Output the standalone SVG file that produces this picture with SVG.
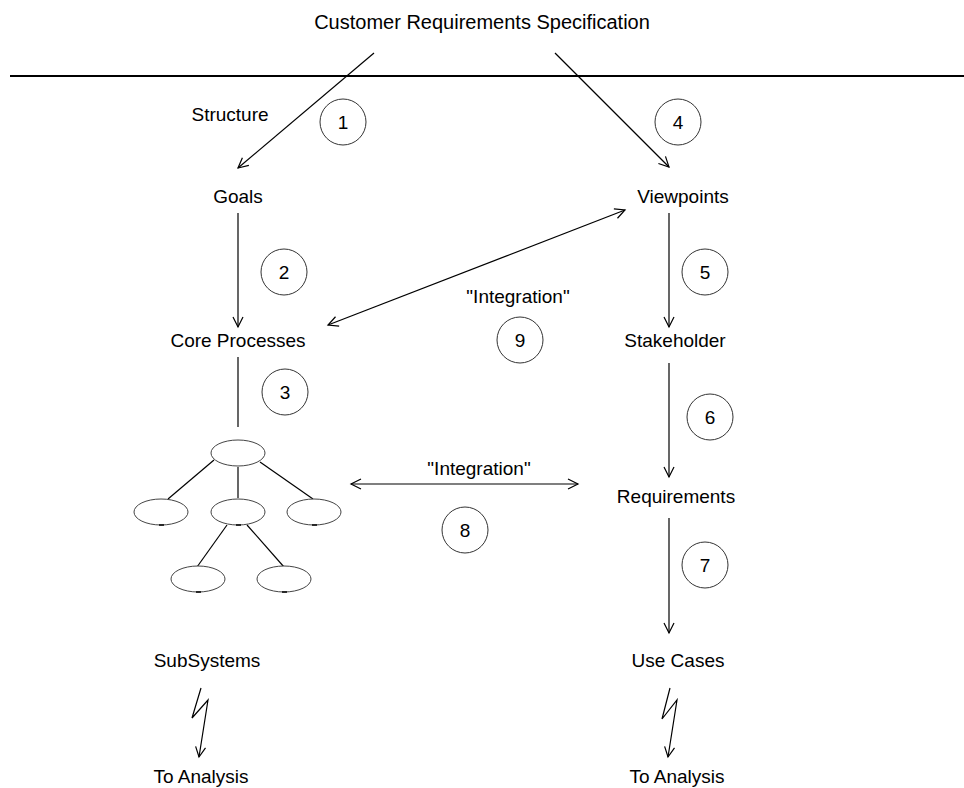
<svg xmlns="http://www.w3.org/2000/svg" width="964" height="788" viewBox="0 0 964 788">
  <style>
    .lbl { font-family: "Liberation Sans", Arial, sans-serif; font-size: 19px; fill: #000; text-anchor: middle; }
    .title { font-size: 20px; }
    .edge { stroke: #000; stroke-width: 1.2; fill: none; }
    .num { fill: #fff; stroke: #333; stroke-width: 1; }
    .node { fill: #fff; stroke: #444; stroke-width: 1; }
    .tick { stroke: #000; stroke-width: 1.5; }
  </style>
  <defs>
    <marker id="head" markerUnits="userSpaceOnUse" markerWidth="14" markerHeight="14" viewBox="-12 -6 14 12" refX="0" refY="0" orient="auto-start-reverse">
      <path d="M-10,-5 L0,0 L-10,5" fill="none" stroke="#000" stroke-width="1.2"/>
    </marker>
  </defs>

  <rect width="964" height="788" fill="#fff"/>

  <g id="title">
    <text class="lbl title" x="482" y="29">Customer Requirements Specification</text>
    <line x1="10" y1="76" x2="964" y2="76" stroke="#000" stroke-width="2"/>
  </g>

  <g id="connectors">
    <line class="edge" x1="374" y1="53" x2="238" y2="168" marker-end="url(#head)"/>
    <line class="edge" x1="555" y1="53" x2="669" y2="167" marker-end="url(#head)"/>
    <line class="edge" x1="238" y1="213" x2="238" y2="327" marker-end="url(#head)"/>
    <line class="edge" x1="669" y1="213" x2="669" y2="327" marker-end="url(#head)"/>
    <line class="edge" x1="328" y1="325" x2="625" y2="210" marker-start="url(#head)" marker-end="url(#head)"/>
    <line class="edge" x1="238" y1="357" x2="238" y2="427"/>
    <line class="edge" x1="669" y1="363" x2="669" y2="477" marker-end="url(#head)"/>
    <line class="edge" x1="351" y1="484" x2="578" y2="484" marker-start="url(#head)" marker-end="url(#head)"/>
    <line class="edge" x1="669" y1="518" x2="669" y2="633" marker-end="url(#head)"/>
    <polyline class="edge" points="201,688 192,718 208,700 199,757" marker-end="url(#head)"/>
    <polyline class="edge" points="670,688 662,719 677,700 668,757" marker-end="url(#head)"/>
  </g>

  <g id="structure"><text class="lbl" x="230" y="121">Structure</text></g>
  <g id="goals"><text class="lbl" x="238" y="203">Goals</text></g>
  <g id="viewpoints"><text class="lbl" x="683" y="203">Viewpoints</text></g>
  <g id="core-processes"><text class="lbl" x="238" y="347">Core Processes</text></g>
  <g id="stakeholder"><text class="lbl" x="675" y="347">Stakeholder</text></g>
  <g id="integration-9"><text class="lbl" x="518" y="303">"Integration"</text></g>
  <g id="integration-8"><text class="lbl" x="479" y="475">"Integration"</text></g>
  <g id="requirements"><text class="lbl" x="676" y="503">Requirements</text></g>
  <g id="use-cases"><text class="lbl" x="678" y="667">Use Cases</text></g>
  <g id="subsystems"><text class="lbl" x="207" y="667">SubSystems</text></g>
  <g id="to-analysis-left"><text class="lbl" x="201" y="783">To Analysis</text></g>
  <g id="to-analysis-right"><text class="lbl" x="677" y="783">To Analysis</text></g>

  <!-- subsystem tree -->
  <g id="tree">
    <line class="edge" x1="214" y1="460" x2="168" y2="499"/>
    <line class="edge" x1="238" y1="467" x2="238" y2="498"/>
    <line class="edge" x1="260" y1="462" x2="313" y2="499"/>
    <line class="edge" x1="227" y1="525" x2="197" y2="567"/>
    <line class="edge" x1="247" y1="525" x2="284" y2="567"/>
    <ellipse class="node" cx="238" cy="453" rx="27" ry="13"/>
    <ellipse class="node" cx="161" cy="512" rx="27" ry="13"/>
    <ellipse class="node" cx="238" cy="512" rx="27" ry="13"/>
    <ellipse class="node" cx="314" cy="512" rx="27" ry="13"/>
    <ellipse class="node" cx="198" cy="579" rx="27" ry="13"/>
    <ellipse class="node" cx="284" cy="579" rx="27" ry="13"/>
    <line class="tick" x1="159" y1="525" x2="164" y2="525"/>
    <line class="tick" x1="236" y1="525" x2="241" y2="525"/>
    <line class="tick" x1="312" y1="525" x2="317" y2="525"/>
    <line class="tick" x1="196" y1="592" x2="201" y2="592"/>
    <line class="tick" x1="282" y1="592" x2="287" y2="592"/>
  </g>

  <!-- step numbers -->
  <g id="step-1"><circle class="num" cx="343" cy="122" r="23"/><text class="lbl" x="343" y="129">1</text></g>
  <g id="step-2"><circle class="num" cx="284" cy="272" r="23"/><text class="lbl" x="284" y="279">2</text></g>
  <g id="step-3"><circle class="num" cx="285" cy="392" r="23"/><text class="lbl" x="285" y="399">3</text></g>
  <g id="step-4"><circle class="num" cx="678" cy="122" r="23"/><text class="lbl" x="678" y="129">4</text></g>
  <g id="step-5"><circle class="num" cx="705" cy="272" r="23"/><text class="lbl" x="705" y="279">5</text></g>
  <g id="step-6"><circle class="num" cx="710" cy="417" r="23"/><text class="lbl" x="710" y="424">6</text></g>
  <g id="step-7"><circle class="num" cx="705" cy="565" r="23"/><text class="lbl" x="705" y="572">7</text></g>
  <g id="step-8"><circle class="num" cx="465" cy="530" r="23"/><text class="lbl" x="465" y="537">8</text></g>
  <g id="step-9"><circle class="num" cx="520" cy="340" r="23"/><text class="lbl" x="520" y="347">9</text></g>
</svg>
